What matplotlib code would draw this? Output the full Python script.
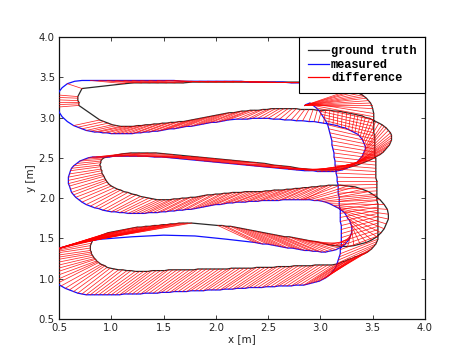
import numpy as np
import matplotlib
matplotlib.use("Agg")
import matplotlib.pyplot as plt

nan = np.nan

# ---- start: measured position stuck while ground truth turns the corner ----
start_gt_x = [3.28, 3.31, 3.34, 3.37, 3.40, 3.42, 3.44, 3.46, 3.48, 3.49, 3.50]
start_gt_y = [3.34, 3.33, 3.32, 3.30, 3.28, 3.26, 3.24, 3.21, 3.18, 3.15, 3.11]
start_ms_x = [2.85, 2.85, 2.85, 2.85, 2.85, 2.85, 2.85, 2.85, 2.85, 2.85, 2.86]
start_ms_y = [3.15, 3.15, 3.15, 3.15, 3.15, 3.15, 3.15, 3.15, 3.15, 3.15, 3.16]

# ---- right side going down, then bottom-right corner ----
right_gt_x = [3.51, 3.51, 3.51, 3.51, 3.51, 3.51, 3.51, 3.52, 3.52, 3.52, 3.52, 3.52, 3.52, 3.52,
              3.53, 3.53, 3.53, 3.53, 3.53, 3.53, 3.53, 3.54, 3.54, 3.54, 3.54, 3.54, 3.54, 3.54,
              3.55, 3.55, 3.55, 3.55, 3.55, 3.55, 3.55, 3.55, 3.55, 3.55, 3.55, 3.55,
              3.54, 3.53, 3.51, 3.49, 3.47, 3.45, 3.42, 3.39, 3.36, 3.33, 3.30, 3.27, 3.24, 3.21,
              3.18, 3.15]
right_gt_y = [3.05, 3.01, 2.97, 2.93, 2.89, 2.85, 2.81, 2.77, 2.73, 2.69, 2.65, 2.61, 2.57, 2.53,
              2.49, 2.45, 2.41, 2.37, 2.33, 2.29, 2.25, 2.21, 2.17, 2.13, 2.09, 2.05, 2.01, 1.97,
              1.93, 1.89, 1.85, 1.81, 1.77, 1.73, 1.69, 1.65, 1.61, 1.57, 1.53, 1.49,
              1.46, 1.43, 1.40, 1.37, 1.35, 1.33, 1.31, 1.30, 1.28, 1.27, 1.25, 1.24, 1.22, 1.21,
              1.19, 1.18]
right_ms_x = [2.90, 2.93, 2.96, 2.99, 3.01, 3.03, 3.05, 3.07, 3.08, 3.09, 3.10, 3.11, 3.11, 3.12,
              3.13, 3.13, 3.14, 3.14, 3.15, 3.15, 3.16, 3.16, 3.17, 3.17, 3.17, 3.18, 3.18, 3.18,
              3.19, 3.19, 3.19, 3.19, 3.20, 3.20, 3.20, 3.20, 3.20, 3.20, 3.19, 3.19,
              3.18, 3.17, 3.16, 3.15, 3.13, 3.11, 3.09, 3.07, 3.05, 3.02, 2.99, 2.96, 2.93, 2.90,
              2.87, 2.84]
right_ms_y = [3.18, 3.15, 3.12, 3.08, 3.04, 3.00, 2.96, 2.91, 2.86, 2.81, 2.76, 2.71, 2.66, 2.61,
              2.56, 2.51, 2.46, 2.41, 2.36, 2.31, 2.26, 2.21, 2.16, 2.11, 2.06, 2.01, 1.96, 1.91,
              1.86, 1.81, 1.76, 1.71, 1.66, 1.61, 1.56, 1.51, 1.46, 1.41, 1.36, 1.31,
              1.27, 1.23, 1.19, 1.15, 1.11, 1.08, 1.05, 1.03, 1.01, 0.99, 0.97, 0.96, 0.95, 0.94,
              0.93, 0.92]

# ---- pass 1 (bottom, right to left) + left turn ----
p1_gt_x = [3.11, 3.07, 3.03, 2.99, 2.95, 2.91, 2.87, 2.83, 2.79, 2.75, 2.71, 2.67, 2.63, 2.59, 2.55, 2.51,
           2.47, 2.43, 2.39, 2.35, 2.31, 2.27, 2.23, 2.19, 2.15, 2.11, 2.07, 2.03, 1.99, 1.95, 1.91, 1.87,
           1.83, 1.79, 1.75, 1.71, 1.67, 1.63, 1.59, 1.55, 1.51, 1.47, 1.43, 1.39, 1.35, 1.31, 1.27, 1.23,
           1.19, 1.15, 1.11,
           1.07, 1.03, 0.99, 0.96, 0.94, 0.92, 0.90, 0.88, 0.87, 0.86, 0.85, 0.84, 0.83, 0.82, 0.81, 0.81,
           0.80, 0.80, 0.80, 0.81, 0.82]
p1_gt_y = [1.17, 1.17, 1.17, 1.17, 1.17, 1.16, 1.16, 1.16, 1.16, 1.16, 1.15, 1.15, 1.15, 1.15, 1.14, 1.14,
           1.14, 1.14, 1.14, 1.13, 1.13, 1.13, 1.13, 1.13, 1.13, 1.12, 1.12, 1.12, 1.12, 1.12, 1.12, 1.12,
           1.12, 1.11, 1.11, 1.11, 1.11, 1.11, 1.11, 1.11, 1.10, 1.10, 1.10, 1.10, 1.09, 1.09, 1.09, 1.09,
           1.10, 1.10, 1.11,
           1.11, 1.12, 1.13, 1.14, 1.16, 1.17, 1.18, 1.20, 1.21, 1.22, 1.24, 1.25, 1.27, 1.29, 1.31, 1.33,
           1.35, 1.38, 1.41, 1.44, 1.47]
p1_ms_x = [2.80, 2.76, 2.72, 2.68, 2.64, 2.60, 2.56, 2.52, 2.48, 2.44, 2.40, 2.36, 2.32, 2.28, 2.24, 2.20,
           2.16, 2.12, 2.08, 2.04, 2.00, 1.96, 1.92, 1.88, 1.84, 1.80, 1.76, 1.72, 1.68, 1.64, 1.60, 1.56,
           1.52, 1.48, 1.44, 1.40, 1.36, 1.32, 1.28, 1.24, 1.20, 1.16, 1.12, 1.08, 1.04, 1.00, 0.96, 0.92,
           0.88, 0.84, 0.80,
           0.76, 0.72, 0.68, 0.64, 0.60, 0.56, 0.52, 0.48, 0.45, 0.42, 0.40, 0.38, 0.37, 0.36, 0.36, 0.36,
           0.37, 0.38, 0.40, 0.43, 0.46]
p1_ms_y = [0.92, 0.92, 0.91, 0.91, 0.91, 0.91, 0.90, 0.90, 0.90, 0.89, 0.89, 0.89, 0.89, 0.88, 0.88, 0.88,
           0.87, 0.87, 0.87, 0.86, 0.86, 0.86, 0.86, 0.85, 0.85, 0.85, 0.85, 0.84, 0.84, 0.84, 0.84, 0.83,
           0.83, 0.83, 0.82, 0.82, 0.82, 0.82, 0.81, 0.81, 0.81, 0.81, 0.81, 0.80, 0.80, 0.80, 0.80, 0.80,
           0.80, 0.80, 0.80,
           0.80, 0.81, 0.82, 0.84, 0.86, 0.88, 0.91, 0.94, 0.97, 1.01, 1.05, 1.09, 1.13, 1.17, 1.21, 1.24,
           1.27, 1.30, 1.32, 1.34, 1.36]

# ---- pass 2 (left to right) + right loop ----
p2_gt_x = [0.85, 0.89, 0.93, 0.97, 1.01, 1.05, 1.09, 1.13, 1.17, 1.21, 1.25, 1.29, 1.33, 1.37, 1.41, 1.45,
           1.49, 1.53, 1.57, 1.61, 1.65, 1.69, 1.73, 1.77,
           nan, nan, nan, nan, nan,
           2.02, 2.06, 2.10, 2.14, 2.18, 2.22, 2.26, 2.30, 2.34, 2.38, 2.42, 2.46, 2.50, 2.54, 2.58, 2.62,
           2.66, 2.70, 2.74, 2.78, 2.82, 2.86, 2.90,
           2.96, 3.02, 3.08, 3.14, 3.20, 3.26, 3.32, 3.38, 3.44, 3.49, 3.54, 3.58, 3.61, 3.63, 3.65, 3.65,
           3.64, 3.61, 3.57, 3.52, 3.46, 3.40, 3.33, 3.26, 3.19]
p2_gt_y = [1.50, 1.53, 1.55, 1.57, 1.58, 1.59, 1.60, 1.61, 1.62, 1.63, 1.64, 1.64, 1.65, 1.65, 1.66, 1.66,
           1.67, 1.67, 1.68, 1.68, 1.69, 1.69, 1.69, 1.69,
           nan, nan, nan, nan, nan,
           1.66, 1.66, 1.65, 1.65, 1.64, 1.63, 1.62, 1.61, 1.60, 1.59, 1.58, 1.57, 1.56, 1.55, 1.54, 1.53,
           1.52, 1.52, 1.51, 1.50, 1.49, 1.48, 1.47,
           1.46, 1.44, 1.42, 1.41, 1.40, 1.40, 1.41, 1.43, 1.45, 1.48, 1.52, 1.57, 1.62, 1.68, 1.74, 1.80,
           1.86, 1.92, 1.98, 2.03, 2.08, 2.11, 2.14, 2.15, 2.16]
p2_ms_x = [0.46, 0.47, 0.48, 0.49, 0.50, 0.51, 0.52, 0.53, 0.54, 0.55, 0.56, 0.57, 0.58, 0.59, 0.60, 0.61,
           0.62, 0.63, 0.64, 0.65, 0.66, 0.67, 0.68, 0.70,
           0.90, 1.20, 1.50, 1.80, 2.10,
           2.37, 2.41, 2.45, 2.49, 2.53, 2.57, 2.61, 2.65, 2.69, 2.73, 2.77, 2.81, 2.85, 2.89, 2.93, 2.97,
           3.01, 3.05, 3.08, 3.12, 3.15, 3.18, 3.21,
           3.23, 3.25, 3.27, 3.28, 3.29, 3.30, 3.30, 3.30, 3.29, 3.28, 3.26, 3.25, 3.23, 3.20, 3.18, 3.15,
           3.12, 3.09, 3.05, 3.02, 2.98, 2.94, 2.90, 2.86, 2.82]
p2_ms_y = [1.36, 1.36, 1.37, 1.37, 1.38, 1.38, 1.38, 1.39, 1.39, 1.39, 1.40, 1.40, 1.41, 1.41, 1.41, 1.42,
           1.42, 1.42, 1.43, 1.43, 1.43, 1.44, 1.44, 1.45,
           1.49, 1.52, 1.54, 1.53, 1.49,
           1.45, 1.44, 1.43, 1.43, 1.42, 1.41, 1.40, 1.39, 1.38, 1.38, 1.37, 1.36, 1.35, 1.35, 1.34, 1.34,
           1.33, 1.33, 1.34, 1.35, 1.36, 1.38, 1.40,
           1.42, 1.45, 1.48, 1.51, 1.54, 1.58, 1.61, 1.65, 1.68, 1.72, 1.75, 1.78, 1.82, 1.85, 1.87, 1.89,
           1.91, 1.93, 1.95, 1.96, 1.97, 1.97, 1.98, 1.98, 1.98]

# ---- pass 3 (right to left) + left turn ----
p3_gt_x = [3.12, 3.08, 3.04, 3.00, 2.96, 2.92, 2.88, 2.84, 2.80, 2.76, 2.72, 2.68, 2.64, 2.60, 2.56, 2.52,
           2.48, 2.44, 2.40, 2.36, 2.32, 2.28, 2.24, 2.20, 2.16, 2.12, 2.08, 2.04, 2.00, 1.96, 1.92, 1.88,
           1.84, 1.80, 1.76, 1.72, 1.68, 1.64, 1.60, 1.56, 1.52, 1.48, 1.44, 1.40, 1.36, 1.32, 1.28, 1.24,
           1.20, 1.16, 1.12,
           1.09, 1.06, 1.03, 1.00, 0.98, 0.96, 0.95, 0.94, 0.93, 0.92, 0.91, 0.91, 0.90, 0.90, 0.89, 0.90,
           0.90, 0.91, 0.93, 0.96]
p3_gt_y = [2.16, 2.16, 2.15, 2.15, 2.14, 2.14, 2.13, 2.13, 2.12, 2.12, 2.11, 2.11, 2.10, 2.10, 2.10, 2.09,
           2.09, 2.08, 2.08, 2.08, 2.08, 2.08, 2.07, 2.07, 2.07, 2.06, 2.06, 2.05, 2.05, 2.04, 2.04, 2.03,
           2.02, 2.01, 2.01, 2.00, 2.00, 1.99, 1.99, 1.98, 1.98, 1.98, 1.98, 1.99, 2.00, 2.01, 2.02, 2.04,
           2.05, 2.07, 2.08,
           2.10, 2.11, 2.13, 2.15, 2.17, 2.20, 2.22, 2.24, 2.27, 2.29, 2.31, 2.34, 2.36, 2.39, 2.41, 2.44,
           2.46, 2.48, 2.50, 2.51]
p3_ms_x = [2.84, 2.80, 2.76, 2.72, 2.68, 2.64, 2.60, 2.56, 2.52, 2.48, 2.44, 2.40, 2.36, 2.32, 2.28, 2.24,
           2.20, 2.16, 2.12, 2.08, 2.04, 2.00, 1.96, 1.92, 1.88, 1.84, 1.80, 1.76, 1.72, 1.68, 1.64, 1.60,
           1.56, 1.52, 1.48, 1.44, 1.40, 1.36, 1.32, 1.28, 1.24, 1.20, 1.16, 1.12, 1.08, 1.04, 1.00, 0.96,
           0.92, 0.88, 0.84,
           0.80, 0.76, 0.72, 0.69, 0.66, 0.64, 0.62, 0.61, 0.60, 0.59, 0.59, 0.59, 0.60, 0.61, 0.62, 0.64,
           0.67, 0.70, 0.74, 0.78]
p3_ms_y = [1.98, 1.98, 1.98, 1.98, 1.98, 1.98, 1.97, 1.97, 1.97, 1.97, 1.97, 1.96, 1.96, 1.96, 1.95, 1.95,
           1.95, 1.94, 1.94, 1.93, 1.92, 1.92, 1.91, 1.90, 1.89, 1.88, 1.87, 1.86, 1.86, 1.85, 1.85, 1.84,
           1.84, 1.83, 1.83, 1.82, 1.82, 1.82, 1.81, 1.81, 1.81, 1.81, 1.81, 1.82, 1.82, 1.83, 1.83, 1.84,
           1.85, 1.87, 1.88,
           1.90, 1.92, 1.95, 1.98, 2.01, 2.04, 2.07, 2.11, 2.15, 2.18, 2.22, 2.26, 2.30, 2.34, 2.37, 2.40,
           2.43, 2.46, 2.48, 2.50]

# ---- pass 4 (left to right) + right loop + pass 5 (right to left) ----
p4_gt_x = [1.03, 1.11, 1.19, 1.27, 1.35, 1.43, 1.51, 1.59, 1.67, 1.75, 1.83, 1.91, 1.99, 2.07, 2.15, 2.23,
           2.31, 2.39, 2.47, 2.55, 2.63, 2.71, 2.79, 2.87, 2.95, 3.03, 3.11, 3.19, 3.27, 3.35,
           3.39, 3.43, 3.47, 3.50, 3.54, 3.57, 3.60, 3.62, 3.64, 3.66, 3.67, 3.68, 3.68, 3.68, 3.67, 3.65,
           3.63, 3.61, 3.59, 3.56, 3.53, 3.50, 3.47, 3.43, 3.40, 3.36, 3.33, 3.29, 3.25, 3.21, 3.17, 3.13,
           3.09, 3.05, 3.01, 2.97, 2.93, 2.89, 2.85, 2.81, 2.77, 2.73, 2.69, 2.65, 2.61, 2.57, 2.53, 2.49,
           2.45, 2.41,
           2.37, 2.33, 2.29, 2.25, 2.21, 2.17, 2.13, 2.09, 2.05, 2.01, 1.97, 1.93, 1.89, 1.85, 1.81, 1.77,
           1.73, 1.69, 1.65, 1.61, 1.57, 1.53, 1.49, 1.45, 1.41, 1.37, 1.33, 1.29, 1.25, 1.21, 1.17, 1.13,
           1.09, 1.05, 1.01, 0.97, 0.93, 0.89]
p4_gt_y = [2.53, 2.55, 2.56, 2.56, 2.56, 2.56, 2.55, 2.54, 2.53, 2.52, 2.51, 2.50, 2.49, 2.48, 2.47, 2.46,
           2.45, 2.44, 2.43, 2.41, 2.40, 2.39, 2.37, 2.36, 2.35, 2.35, 2.35, 2.36, 2.38, 2.41,
           2.43, 2.45, 2.47, 2.49, 2.52, 2.54, 2.57, 2.60, 2.63, 2.66, 2.69, 2.72, 2.75, 2.78, 2.81, 2.84,
           2.87, 2.89, 2.91, 2.93, 2.95, 2.97, 2.99, 3.00, 3.02, 3.03, 3.04, 3.05, 3.06, 3.07, 3.08, 3.08,
           3.09, 3.09, 3.09, 3.09, 3.10, 3.10, 3.10, 3.10, 3.11, 3.11, 3.11, 3.11, 3.11, 3.11, 3.11, 3.10,
           3.10, 3.09,
           3.09, 3.09, 3.08, 3.08, 3.07, 3.06, 3.06, 3.05, 3.04, 3.03, 3.02, 3.01, 3.00, 2.99, 2.98, 2.97,
           2.96, 2.95, 2.95, 2.94, 2.94, 2.93, 2.93, 2.92, 2.92, 2.91, 2.91, 2.90, 2.90, 2.89, 2.89, 2.89,
           2.89, 2.90, 2.91, 2.93, 2.95, 2.97]
p4_ms_x = [0.82, 0.86, 0.90, 0.94, 0.98, 1.02, 1.06, 1.09, 1.17, 1.25, 1.33, 1.41, 1.49, 1.57, 1.65, 1.73,
           1.81, 1.89, 1.97, 2.05, 2.13, 2.21, 2.29, 2.37, 2.45, 2.53, 2.61, 2.69, 2.77, 2.85,
           2.89, 2.93, 2.97, 3.01, 3.05, 3.09, 3.13, 3.17, 3.21, 3.25, 3.28, 3.31, 3.34, 3.36, 3.38, 3.40,
           3.41, 3.42, 3.43, 3.43, 3.42, 3.41, 3.40, 3.38, 3.36, 3.33, 3.30, 3.27, 3.24, 3.20, 3.16, 3.12,
           3.08, 3.03, 2.98, 2.94, 2.89, 2.83, 2.77, 2.72, 2.66, 2.61, 2.55, 2.50, 2.45, 2.40, 2.35, 2.30,
           2.25, 2.20,
           2.12, 2.08, 2.04, 2.00, 1.96, 1.92, 1.88, 1.84, 1.80, 1.76, 1.72, 1.68, 1.64, 1.60, 1.56, 1.52,
           1.48, 1.44, 1.40, 1.36, 1.32, 1.28, 1.24, 1.20, 1.16, 1.12, 1.08, 1.04, 1.00, 0.96, 0.92, 0.88,
           0.84, 0.80, 0.76, 0.72, 0.68, 0.64]
p4_ms_y = [2.51, 2.51, 2.51, 2.51, 2.51, 2.52, 2.52, 2.52, 2.52, 2.52, 2.52, 2.51, 2.51, 2.50, 2.49, 2.48,
           2.47, 2.46, 2.45, 2.44, 2.43, 2.42, 2.41, 2.40, 2.39, 2.38, 2.37, 2.36, 2.35, 2.34,
           2.34, 2.34, 2.33, 2.33, 2.33, 2.33, 2.33, 2.34, 2.35, 2.37, 2.39, 2.41, 2.43, 2.46, 2.49, 2.52,
           2.55, 2.58, 2.61, 2.64, 2.67, 2.70, 2.73, 2.76, 2.79, 2.81, 2.83, 2.85, 2.87, 2.88, 2.90, 2.91,
           2.92, 2.93, 2.94, 2.95, 2.95, 2.96, 2.96, 2.97, 2.97, 2.98, 2.98, 2.99, 2.99, 2.99, 2.99, 2.98,
           2.98, 2.98,
           2.97, 2.96, 2.95, 2.94, 2.94, 2.93, 2.92, 2.91, 2.90, 2.89, 2.89, 2.88, 2.87, 2.86, 2.86, 2.85,
           2.84, 2.83, 2.83, 2.82, 2.82, 2.81, 2.81, 2.80, 2.80, 2.80, 2.80, 2.80, 2.80, 2.81, 2.81, 2.82,
           2.82, 2.83, 2.84, 2.86, 2.88, 2.90]

# ---- top-left turn (ground truth has gaps) + top pass ----
p6_gt_x = [nan, nan, nan, 0.69, 0.69, 0.69, 0.68, 0.68, 0.68, nan, nan, 0.72, nan, nan,
           1.13, 1.21, 1.29, 1.37, 1.45, 1.53, 1.61, 1.69, 1.77, 1.85, 1.93, 2.01, 2.09, 2.17, 2.25, 2.33,
           2.41, 2.49, 2.57, 2.65, 2.73, 2.81, 2.89, 2.97, 3.05, nan, nan, nan]
p6_gt_y = [nan, nan, nan, 3.15, 3.17, 3.19, 3.21, 3.24, 3.26, nan, nan, 3.36, nan, nan,
           3.42, 3.43, 3.43, 3.43, 3.43, 3.43, 3.43, 3.43, 3.44, 3.44, 3.44, 3.44, 3.44, 3.44, 3.44, 3.44,
           3.44, 3.44, 3.44, 3.44, 3.44, 3.44, 3.44, 3.44, 3.44, nan, nan, nan]
p6_ms_x = [0.58, 0.53, 0.50, 0.49, 0.48, 0.48, 0.48, 0.48, 0.49, 0.50, 0.53, 0.58, 0.65, 0.72,
           0.80, 0.88, 0.96, 1.04, 1.12, 1.20, 1.28, 1.36, 1.44, 1.52, 1.60, 1.68, 1.76, 1.84, 1.92, 2.00,
           2.08, 2.16, 2.24, 2.32, 2.40, 2.48, 2.56, 2.64, 2.72, 2.80, 2.90, 3.00]
p6_ms_y = [2.95, 3.01, 3.07, 3.13, 3.16, 3.19, 3.22, 3.25, 3.28, 3.32, 3.37, 3.42, 3.45, 3.46,
           3.46, 3.46, 3.46, 3.46, 3.46, 3.46, 3.46, 3.46, 3.46, 3.46, 3.46, 3.45, 3.45, 3.45, 3.45, 3.45,
           3.45, 3.45, 3.45, 3.44, 3.44, 3.44, 3.44, 3.44, 3.43, 3.43, 3.43, 3.43]

segments = [
    (start_gt_x, start_gt_y, start_ms_x, start_ms_y),
    (right_gt_x, right_gt_y, right_ms_x, right_ms_y),
    (p1_gt_x, p1_gt_y, p1_ms_x, p1_ms_y),
    (p2_gt_x, p2_gt_y, p2_ms_x, p2_ms_y),
    (p3_gt_x, p3_gt_y, p3_ms_x, p3_ms_y),
    (p4_gt_x, p4_gt_y, p4_ms_x, p4_ms_y),
    (p6_gt_x, p6_gt_y, p6_ms_x, p6_ms_y),
]
for k, seg in enumerate(segments):
    n = {len(s) for s in seg}
    assert len(n) == 1, (k, [len(s) for s in seg])

gt_x = np.concatenate([np.array(s[0], float) for s in segments])
gt_y = np.concatenate([np.array(s[1], float) for s in segments])
ms_x = np.concatenate([np.array(s[2], float) for s in segments])
ms_y = np.concatenate([np.array(s[3], float) for s in segments])

x_ticks = [0.5, 1.0, 1.5, 2.0, 2.5, 3.0, 3.5, 4.0]
y_ticks = [0.5, 1.0, 1.5, 2.0, 2.5, 3.0, 3.5, 4.0]

fig = plt.figure(figsize=(4.7, 3.54), dpi=100)
ax = fig.add_axes([0.1255, 0.099, 0.7787, 0.7966])

ok_gt = np.isfinite(gt_x)
h_gt, = ax.plot(gt_x[ok_gt], gt_y[ok_gt], color='#2a2a2a', lw=0.9, label='ground truth', zorder=2)
h_ms, = ax.plot(ms_x, ms_y, color='#1010ff', lw=0.9, label='measured', zorder=3)
pair = np.isfinite(gt_x) & np.isfinite(ms_x)
lines = ax.plot(np.vstack([gt_x[pair], ms_x[pair]]), np.vstack([gt_y[pair], ms_y[pair]]),
                color='#ff0000', lw=0.55, alpha=0.85, zorder=4)

ax.set_xlim(0.5, 4.0)
ax.set_ylim(0.5, 4.0)
ax.set_xticks(x_ticks)
ax.set_yticks(y_ticks)
ax.set_xticklabels([f"{v:.1f}" for v in x_ticks])
ax.set_yticklabels([f"{v:.1f}" for v in y_ticks])
ax.tick_params(direction='in', top=True, right=True, length=3, width=0.6, labelsize=7.3, pad=3,
               colors='#222222')
for s in ax.spines.values():
    s.set_linewidth(0.9)
    s.set_color('#111111')
ax.set_xlabel('x [m]', fontsize=7.5, labelpad=1, color='#222222')
ax.set_ylabel('y [m]', fontsize=7.5, labelpad=2, color='#222222')

leg = ax.legend([h_gt, h_ms, lines[0]], ['ground truth', 'measured', 'difference'],
                loc='upper right', borderaxespad=0, fancybox=False, framealpha=1,
                edgecolor='black', handlelength=1.8, handletextpad=0.15, labelspacing=0.12,
                borderpad=0.7,
                prop={'family': ['Liberation Mono', 'DejaVu Sans Mono'], 'weight': 'bold', 'size': 8.6})
leg.get_frame().set_linewidth(0.8)
for h in leg.get_lines():
    h.set_linewidth(0.9)
    h.set_alpha(1.0)
leg.set_zorder(10)

fig.savefig('out.png', dpi=100)
